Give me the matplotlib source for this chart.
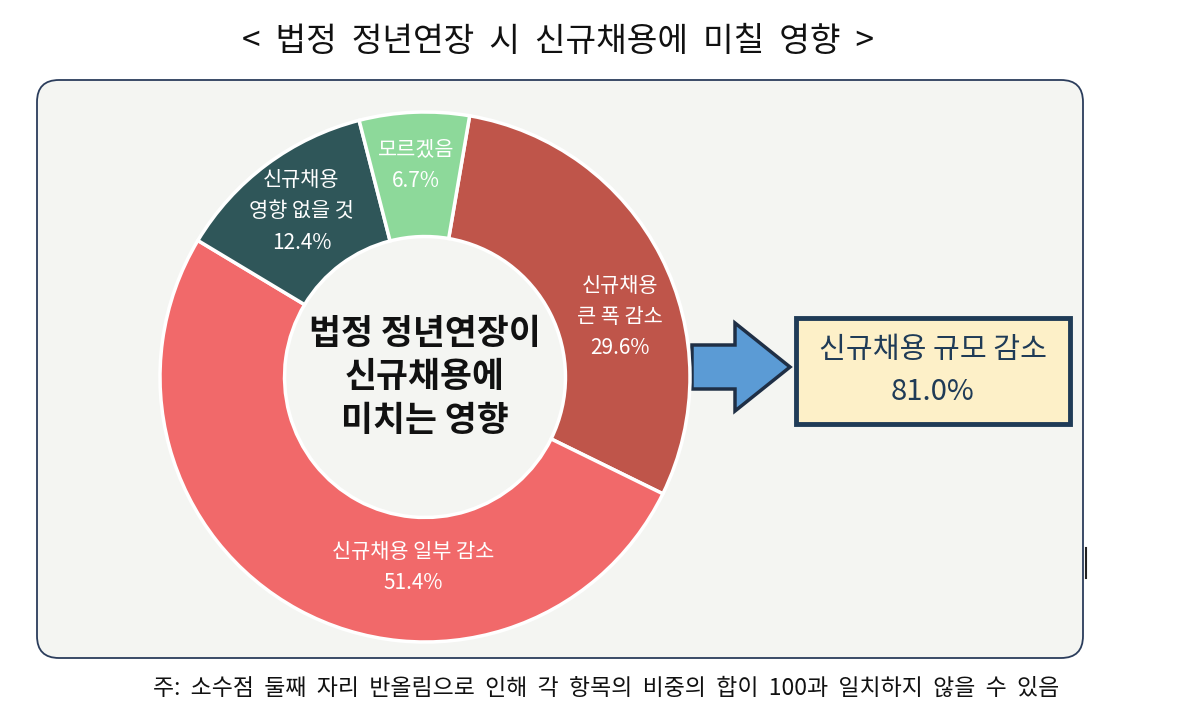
import numpy as np
import matplotlib.pyplot as plt
from matplotlib.patches import FancyBboxPatch, Polygon, Rectangle

plt.rcParams['font.family'] = ['Noto Sans CJK KR', 'DejaVu Sans']

labels = ['신규채용\n큰 폭 감소', '신규채용 일부 감소', '신규채용\n영향 없을 것', '모르겠음']
values = [29.6, 51.4, 12.4, 6.7]
colors = ['#BF554A', '#F1696A', '#2F5659', '#8DD99A']
title = '<  법정  정년연장  시  신규채용에  미칠  영향  >'
center_text = '법정 정년연장이\n신규채용에\n미치는 영향'
summary = '신규채용 규모 감소\n81.0%'
note = '주:  소수점  둘째  자리  반올림으로  인해  각  항목의  비중의  합이  100과  일치하지  않을  수  있음'

W, H = 1200, 714
fig = plt.figure(figsize=(12, 7.14), dpi=100)
bg = fig.add_axes([0, 0, 1, 1])
bg.set_xlim(0, W)
bg.set_ylim(H, 0)
bg.axis('off')

bg.add_patch(FancyBboxPatch((37, 80), 1046, 578, boxstyle='round,pad=0,rounding_size=22',
                            fc='#F4F5F2', ec='#2B3D5C', lw=1.3))
bg.text(558, 42, title, ha='center', va='center', fontsize=24, color='#111111')
bg.text(606, 688, note, ha='center', va='center', fontsize=16.5, color='#111111')

# arrow
arrow = [(692, 345), (735, 345), (735, 323), (790, 367), (735, 411), (735, 389), (692, 389)]
bg.add_patch(Polygon(arrow, closed=True, fc='#5B9BD5', ec='#1F2F45', lw=2.5))
# summary box
bg.add_patch(Rectangle((796, 318), 274, 106, fc='#FDF0C8', ec='#1F3B57', lw=3.5))
bg.text(933, 371, summary, ha='center', va='center', fontsize=21, color='#1F3B57', linespacing=1.5)
bg.plot([1086, 1086], [548, 578], color='#222222', lw=1.5)

cx, cy, r = 425, 377, 265
ax = fig.add_axes([(cx - r) / W, (H - cy - r) / H, 2 * r / W, 2 * r / H])
start = 80.3
wedges, _ = ax.pie(values, colors=colors, startangle=start, counterclock=False, radius=1,
                   wedgeprops=dict(width=0.47, edgecolor='white', linewidth=2.5))
ax.set_xlim(-1, 1)
ax.set_ylim(-1, 1)
ax.axis('off')

dist = [0.77, 0.72, 0.78, 0.8]
shift = [-10, 25, 0, 0]
for w, lab, v, d, s in zip(wedges, labels, values, dist, shift):
    ang = np.deg2rad((w.theta1 + w.theta2) / 2 + s)
    ax.text(d * np.cos(ang), d * np.sin(ang), f'{lab}\n{v:.1f}%', ha='center', va='center',
            color='white', fontsize=15, linespacing=1.55)

ax.text(0, 0, center_text, ha='center', va='center', fontsize=25, fontweight='bold',
        color='#111111', linespacing=1.3)

fig.savefig('out.png', dpi=100)
